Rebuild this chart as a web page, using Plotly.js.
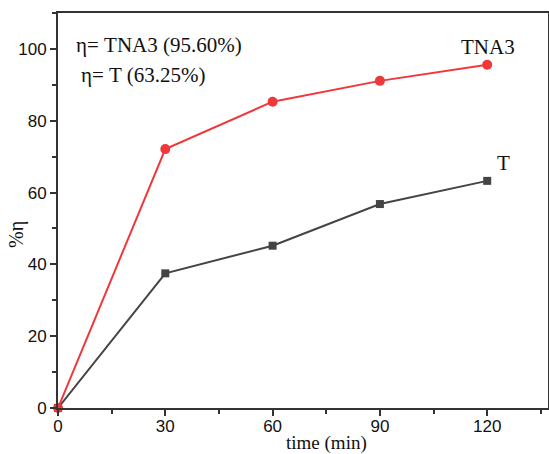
<!DOCTYPE html>
<html><head><meta charset="utf-8">
<script src="https://cdn.plot.ly/plotly-3.0.1.min.js"></script>
<style>html,body{margin:0;padding:0;background:#fff}#c{width:549px;height:454px}</style>
</head><body><div id="c"></div>
<script>
const time = [0, 30, 60, 90, 120];
const tna3 = [0, 72.1, 85.3, 91.1, 95.6];
const t = [0, 37.5, 45.2, 56.8, 63.25];
const xTicks = [0, 30, 60, 90, 120];
const yTicks = [0, 20, 40, 60, 80, 100];

const traces = [
  {x: time, y: t, type: 'scatter', mode: 'lines+markers', name: 'T', cliponaxis: false,
   line: {color: '#444444', width: 2}, marker: {symbol: 'square', size: 8, color: '#444444'}},
  {x: time, y: tna3, type: 'scatter', mode: 'lines+markers', name: 'TNA3', cliponaxis: false,
   line: {color: '#f0373a', width: 2}, marker: {symbol: 'circle', size: 10, color: '#f0373a'}}
];
const serif = 'Liberation Serif, Times New Roman, serif';
const sans = 'Liberation Sans, Arial, sans-serif';
const layout = {
  width: 549, height: 454,
  margin: {l: 58, r: 1, t: 13, b: 46},
  showlegend: false,
  paper_bgcolor: '#fff', plot_bgcolor: '#fff',
  xaxis: {range: [0, 137], tickvals: xTicks, ticks: 'outside', ticklen: 6, tickwidth: 2, tickcolor: '#333',
    showline: true, linewidth: 2, linecolor: '#333', mirror: true, showgrid: false, zeroline: false,
    ticklabelstandoff: -4,
    tickfont: {family: sans, size: 17, color: '#111'},
    minor: {dtick: 15, ticks: 'outside', ticklen: 4, tickwidth: 2, tickcolor: '#333', showgrid: false}},
  yaxis: {range: [0, 110], tickvals: yTicks, ticks: 'outside', ticklen: 6, tickwidth: 2, tickcolor: '#333',
    showline: true, linewidth: 2, linecolor: '#333', mirror: true, showgrid: false, zeroline: false,
    tickfont: {family: sans, size: 17, color: '#111'},
    minor: {dtick: 10, ticks: 'outside', ticklen: 4, tickwidth: 2, tickcolor: '#333', showgrid: false}},
  annotations: [
    {text: 'η= TNA3 (95.60%)', xref: 'paper', yref: 'paper', x: 16/490, y: (408-45)/395, xanchor: 'left', yanchor: 'middle', showarrow: false, font: {family: serif, size: 21, color: '#111'}},
    {text: 'η= T (63.25%)', xref: 'paper', yref: 'paper', x: 21/490, y: (408-75)/395, xanchor: 'left', yanchor: 'middle', showarrow: false, font: {family: serif, size: 21, color: '#111'}},
    {text: 'TNA3', xref: 'paper', yref: 'paper', x: (488-58)/490, y: (408-47)/395, xanchor: 'center', yanchor: 'middle', showarrow: false, font: {family: serif, size: 21, color: '#111'}},
    {text: 'T', xref: 'paper', yref: 'paper', x: (503-58)/490, y: (408-163)/395, xanchor: 'center', yanchor: 'middle', showarrow: false, font: {family: serif, size: 21, color: '#111'}},
    {text: 'time (min)', xref: 'paper', yref: 'paper', x: (326-58)/490, y: (408-443)/395, xanchor: 'center', yanchor: 'middle', showarrow: false, font: {family: serif, size: 19, color: '#111'}},
    {text: '%η', xref: 'paper', yref: 'paper', x: (16-58)/490, y: (408-235)/395, xanchor: 'center', yanchor: 'middle', textangle: -90, showarrow: false, font: {family: serif, size: 20, color: '#111'}}
  ]
};
Plotly.newPlot('c', traces, layout, {staticPlot: true, displayModeBar: false});
</script></body></html>
